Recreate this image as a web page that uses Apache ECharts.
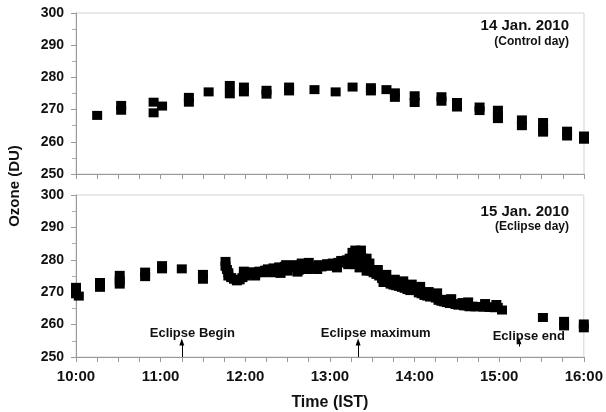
<!DOCTYPE html>
<html>
<head>
<meta charset="utf-8">
<script src="https://cdn.jsdelivr.net/npm/echarts@6/dist/echarts.min.js"></script>
<style>
  html, body { margin: 0; padding: 0; background: #fff; }
  #chart { width: 606px; height: 412px; }
</style>
</head>
<body>
<div id="chart"></div>
<script>
// time in minutes after midnight (IST), ozone in DU
const controlTimes = [615, 632, 632, 655, 655, 661, 680, 680, 694, 709, 709, 719, 719, 735, 735,
  751, 751, 769, 784, 796, 809, 809, 820, 826, 826, 840, 840, 859, 859, 870, 870, 886, 886,
  899, 899, 899, 916, 916, 931, 931, 931, 948, 948, 960, 960]
const controlOzone = [268.2, 271.3, 269.8, 272.3, 269, 271.1, 273.8, 272.3, 275.5, 277.5, 274.9, 277, 275.5, 276, 274.8,
  277, 275.8, 276.2, 275.5, 277, 276.8, 275.8, 276.2, 275.2, 273.8, 274.3, 272.2, 274, 272.6, 272.2, 270.8, 270.8, 269.7,
  269.8, 268, 267.2, 266.8, 265, 266, 264, 263, 263.3, 261.8, 261.8, 260.8]

const eclipseTimes = [600, 600, 602, 617, 617, 631, 631, 631, 649, 649, 661, 661, 675, 690, 690,
  706, 706, 707, 708, 708, 710, 712, 714, 716, 718, 720, 722, 724, 726, 728, 730, 732, 734, 736, 738,
  740, 742, 744, 746, 748, 750, 752, 754, 756, 758, 760, 762, 764, 766, 768, 770, 772, 774, 776, 778,
  780, 782, 784, 786, 788, 790, 792, 794, 796, 797, 799, 800, 801, 802, 803, 804, 805, 807, 809, 811,
  813, 815, 817, 819, 821, 823, 825, 827, 829, 831, 833, 835, 837, 839, 841, 843, 845, 847, 849, 851,
  853, 855, 857, 859, 861, 863, 865, 867, 869, 871, 873, 875, 877, 879, 881, 883, 885, 887, 889, 891,
  893, 895, 897, 899, 902, 931, 946, 946, 960, 960,
  719, 727, 739, 749, 761, 771, 785, 793, 798, 806, 818, 834, 848, 862, 874,
  745, 757, 765, 798, 802, 806, 808, 814, 820, 826, 832, 838, 844, 850, 856, 866, 878, 890, 898]
const eclipseOzone = [271.5, 269.5, 268.8, 273, 271.5, 275.2, 273.5, 272.5, 276.2, 274.8, 278.2, 277.2, 277.2, 275.5, 274,
  279.5, 278, 277, 276, 275, 274.5, 274, 273.5, 273.8, 274.5, 275, 275.5, 276.3, 275.5, 276, 276.5, 276, 276.8, 277.2, 276.5,
  277.5, 277, 277.8, 277, 278, 276.5, 278.2, 277.5, 278.5, 276.8, 279, 277.5, 277, 277.2, 277.8, 278, 278.5, 277.8, 278.3, 278.8,
  278, 279, 278.5, 279.2, 279.8, 279, 280, 280.5, 282.3, 281.5, 280.5, 279, 277.5, 281.5, 280.5, 279.5, 278, 277, 276.5, 276,
  275.5, 275, 274.2, 273.5, 273, 272.5, 272.2, 272, 271.8, 271.5, 271.2, 270.8, 270.5, 271, 270.5, 269.8, 269.5, 269, 268.8, 268.5,
  268.8, 268.2, 267.5, 267.2, 267, 266.8, 266.5, 266.5, 266.2, 266, 266.2, 265.8, 265.8, 265.5, 265.7, 265.5, 265.5, 265.6, 265.4, 265.5,
  265.3, 265.4, 265.2, 265.3, 264.5, 262.2, 261, 259.6, 260.2, 259,
  276.5, 275, 276, 278.5, 278.2, 277, 277.5, 278.5, 278.5, 276.5, 273, 272.2, 270, 267.8, 266.8,
  275.8, 276.2, 279.2, 283, 283, 280.5, 279, 277, 275.5, 274, 273.5, 272.5, 271.8, 270.2, 269.8, 268, 267, 266.5, 266.2]

// eclipse phase markers: arrow time, arrow bottom/tip (DU), label position
const eventNames = ['Eclipse Begin', 'Eclipse maximum', 'Eclipse end']
const eventTimes = [675, 800, 914]
const eventArrowFrom = [250, 250, 253.2]
const eventArrowTo = [254.6, 254.6, 255]
const eventLabelTimes = [682.5, 812.5, 921]
const eventLabelOzone = [257.4, 257.4, 256.3]

const font = 'Liberation Sans, Arial, sans-serif'
const chart = echarts.init(document.getElementById('chart'))

function xAxisFor(gridIndex, showLabels) {
  return {
    type: 'value',
    gridIndex,
    min: 600,
    max: 960,
    interval: 60,
    axisLine: { lineStyle: { color: '#999', width: 1 } },
    axisTick: { length: 5, lineStyle: { color: '#999' } },
    minorTick: { show: true, splitNumber: 4, length: 5, lineStyle: { color: '#999' } },
    splitLine: { show: false },
    axisLabel: {
      show: showLabels,
      margin: 12,
      color: '#111',
      fontFamily: font,
      fontWeight: 'bold',
      fontSize: 15,
      formatter: v => Math.floor(v / 60) + ':00',
    },
    name: showLabels ? 'Time (IST)' : '',
    nameLocation: 'middle',
    nameGap: 38,
    nameTextStyle: { color: '#111', fontFamily: font, fontWeight: 'bold', fontSize: 16 },
  }
}

function yAxisFor(gridIndex) {
  return {
    type: 'value',
    gridIndex,
    min: 250,
    max: 300,
    interval: 10,
    axisLine: { show: true, lineStyle: { color: '#999', width: 1 } },
    axisTick: { show: true, length: 5, lineStyle: { color: '#999' } },
    minorTick: { show: true, splitNumber: 2, length: 4, lineStyle: { color: '#aaa' } },
    splitLine: { show: false },
    axisLabel: { margin: 12, color: '#111', fontFamily: font, fontWeight: 'bold', fontSize: 14 },
  }
}

const markerStyle = { color: '#000', opacity: 1 }

chart.setOption({
  animation: false,
  grid: [
    { left: 76, right: 22, top: 13, height: 161, show: true, borderColor: '#d4d4d4', borderWidth: 1 },
    { left: 76, right: 22, top: 195, height: 162, show: true, borderColor: '#d4d4d4', borderWidth: 1 },
  ],
  xAxis: [xAxisFor(0, false), xAxisFor(1, true)],
  yAxis: [yAxisFor(0), yAxisFor(1)],
  series: [
    {
      type: 'scatter',
      xAxisIndex: 0,
      yAxisIndex: 0,
      symbol: 'rect',
      symbolSize: [10, 9],
      clip: false,
      itemStyle: markerStyle,
      data: controlTimes.map((t, i) => [t, controlOzone[i]]),
    },
    {
      type: 'scatter',
      xAxisIndex: 1,
      yAxisIndex: 1,
      symbol: 'rect',
      symbolSize: [10, 9],
      clip: false,
      itemStyle: markerStyle,
      data: eclipseTimes.map((t, i) => [t, eclipseOzone[i]]),
      markLine: {
        silent: true,
        symbol: ['none', 'triangle'],
        symbolSize: [5, 7],
        label: { show: false },
        lineStyle: { color: '#000', width: 1, type: 'solid' },
        data: eventTimes.map((t, i) => [
          { coord: [t, eventArrowFrom[i]] },
          { coord: [t, eventArrowTo[i]] },
        ]),
      },
      markPoint: {
        silent: true,
        symbol: 'rect',
        symbolSize: 1,
        itemStyle: { color: 'rgba(0,0,0,0)' },
        label: {
          show: true,
          position: 'inside',
          color: '#111',
          fontFamily: font,
          fontWeight: 'bold',
          fontSize: 13,
          formatter: p => p.name,
        },
        data: eventNames.map((n, i) => ({ name: n, coord: [eventLabelTimes[i], eventLabelOzone[i]] })),
      },
    },
  ],
  graphic: [
    {
      type: 'text', x: 15, y: 186, rotation: Math.PI / 2,
      style: { text: 'Ozone (DU)', font: 'bold 15px ' + font, fill: '#111', textAlign: 'center', textVerticalAlign: 'middle' },
    },
    {
      type: 'text', x: 569, y: 26,
      style: { text: '14 Jan. 2010', font: 'bold 15px ' + font, fill: '#111', textAlign: 'right', textVerticalAlign: 'middle' },
    },
    {
      type: 'text', x: 569, y: 42,
      style: { text: '(Control day)', font: 'bold 12px ' + font, fill: '#111', textAlign: 'right', textVerticalAlign: 'middle' },
    },
    {
      type: 'text', x: 569, y: 212,
      style: { text: '15 Jan. 2010', font: 'bold 15px ' + font, fill: '#111', textAlign: 'right', textVerticalAlign: 'middle' },
    },
    {
      type: 'text', x: 569, y: 227,
      style: { text: '(Eclipse day)', font: 'bold 12px ' + font, fill: '#111', textAlign: 'right', textVerticalAlign: 'middle' },
    },
  ],
})
</script>
</body>
</html>
